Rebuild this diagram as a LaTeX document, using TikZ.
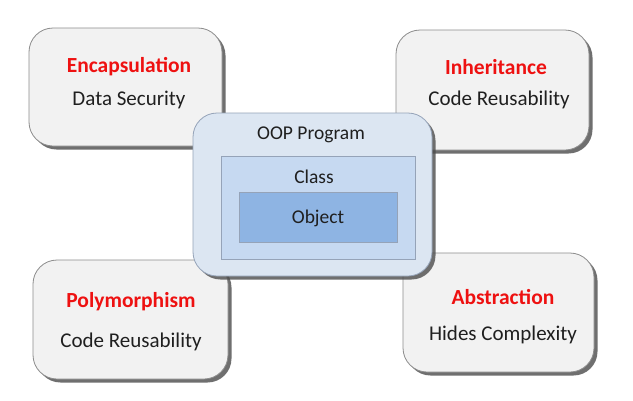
\documentclass[tikz,border=0pt]{standalone}
\usepackage{fontspec}
\setmainfont{Carlito}
\usetikzlibrary{shadows,fit}
\definecolor{boxfill}{HTML}{F2F2F2}
\definecolor{boxline}{HTML}{8C8C8C}
\definecolor{outerblue}{HTML}{DCE6F2}
\definecolor{classblue}{HTML}{C6D9F1}
\definecolor{objblue}{HTML}{8EB4E3}
\definecolor{blueline}{HTML}{95A3B8}
\definecolor{headred}{HTML}{EE1111}
\tikzset{
  card/.style={draw=boxline, line width=0.8pt, fill=boxfill, rounded corners=24pt,
    drop shadow={shadow xshift=3.5pt, shadow yshift=-3.5pt, fill=black!70, opacity=0.8}},
  centercard/.style={draw=blueline, line width=0.8pt, fill=outerblue, rounded corners=24pt,
    drop shadow={shadow xshift=3.5pt, shadow yshift=-3.5pt, fill=black!70, opacity=0.8}},
  head/.style={font=\fontsize{21.5}{24}\selectfont\bfseries, text=headred},
  sub/.style={font=\fontsize{21}{24}\selectfont, text=black!88},
  lbl/.style={font=\fontsize{19.5}{22}\selectfont, text=black!88}
}
\begin{document}
\begin{tikzpicture}[x=1pt,y=-1pt]
\useasboundingbox[fill=white] (0,0) rectangle (633,400);
% outer cards
\path[card] (29,28) rectangle (222,146);
\node[head] (enc) at (129,67) {Encapsulation};
\node[sub] (encs) at (129,100) {Data Security};

\path[card] (396,30) rectangle (589,150);
\node[head] (inh) at (496,67) {Inheritance};
\node[sub] (inhs) at (499,100) {Code Reusability};

\path[card] (33,260) rectangle (228,379);
\node[head] (pol) at (131,302) {Polymorphism};
\node[sub] (pols) at (131,342) {Code Reusability};

\path[card] (403,253) rectangle (594,372);
\node[head] (abs) at (503,297) {Abstraction};
\node[sub] (abss) at (503,335) {Hides Complexity};

% center
\path[centercard] (193,113) rectangle (432,276);
\node[lbl] (oop) at (311,135) {OOP Program};
\path[draw=blueline, line width=0.6pt, fill=classblue] (221,156) rectangle (415,259);
\node[lbl] (cls) at (314,177) {Class};
\path[draw=blueline, line width=0.6pt, fill=objblue] (239,192) rectangle (397,242);
\node[lbl] (obj) at (318,218) {Object};
\end{tikzpicture}
\end{document}
